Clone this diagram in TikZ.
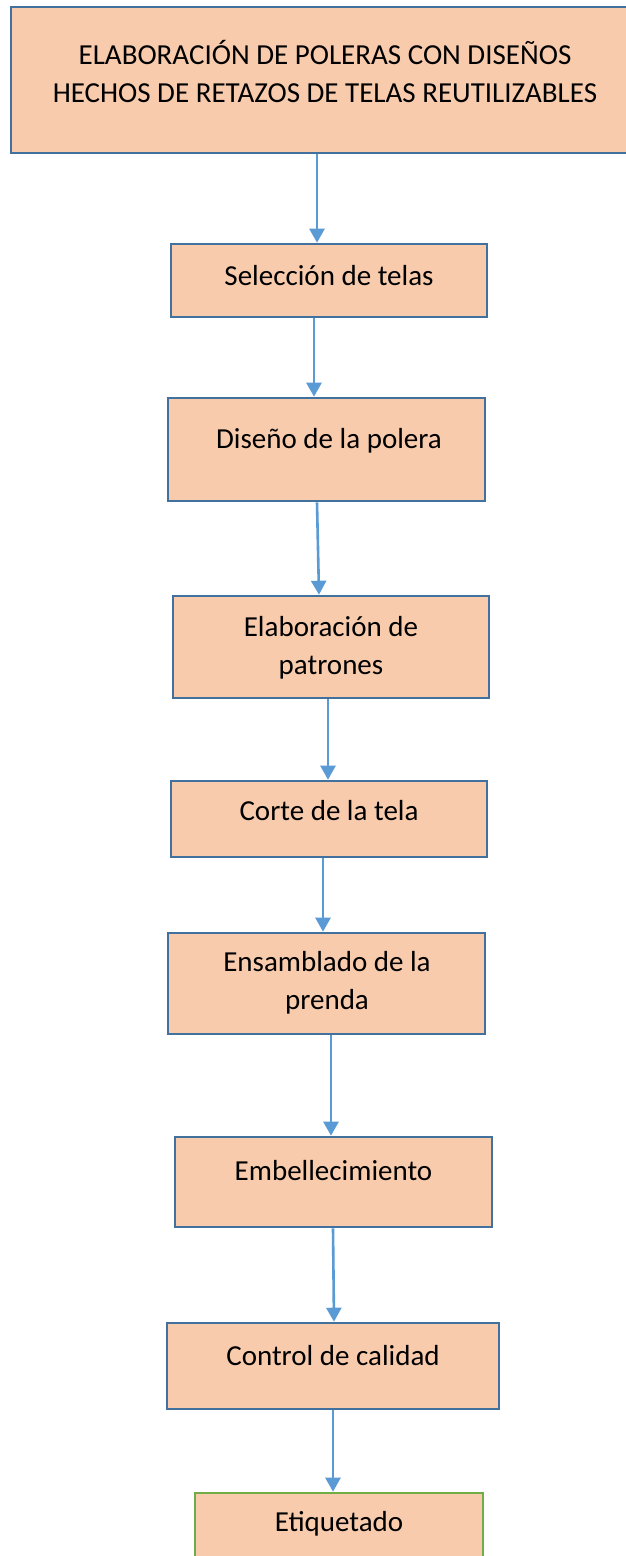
\documentclass[tikz,border=0pt]{standalone}
\usepackage{fontspec}
\setmainfont{Carlito}
\usetikzlibrary{arrows.meta}
\definecolor{boxfill}{HTML}{F8CBAD}
\definecolor{boxline}{HTML}{41719C}
\definecolor{arrline}{HTML}{5B9BD5}
\definecolor{greenline}{HTML}{70AD47}
\tikzset{
  stepbox/.style={draw=boxline, line width=2.6pt, fill=boxfill, rectangle, inner sep=0pt},
  greenbox/.style={stepbox, draw=greenline},
  lbl/.style={font=\fontsize{29}{38}\selectfont, align=center, inner sep=0pt, text=black},
  arr/.style={draw=arrline, line width=2.6pt, -{Triangle[width=15pt,length=14pt]}}
}
\begin{document}
\begin{tikzpicture}[x=1pt,y=-1pt]
\useasboundingbox (0,0) rectangle (626,1556);
\fill[white] (0,0) rectangle (626,1556);
\clip (0,0) rectangle (626,1556);
% boxes (centre, size)
\node[stepbox, minimum width=628pt, minimum height=146pt] (b0) at (325,80) {};
\node[stepbox, minimum width=316pt, minimum height=73pt] (b1) at (329,280.5) {};
\node[stepbox, minimum width=317pt, minimum height=103pt] (b2) at (326.5,449.5) {};
\node[stepbox, minimum width=316pt, minimum height=102pt] (b3) at (331,647) {};
\node[stepbox, minimum width=316pt, minimum height=76pt] (b4) at (329,819) {};
\node[stepbox, minimum width=317pt, minimum height=101pt] (b5) at (326.5,983.5) {};
\node[stepbox, minimum width=317pt, minimum height=90pt] (b6) at (333.5,1182) {};
\node[stepbox, minimum width=332pt, minimum height=86pt] (b7) at (333,1366) {};
\node[greenbox, minimum width=288pt, minimum height=110pt] (b8) at (339,1548) {};
% texts
\node[lbl] (t0) at (325,71) {ELABORACIÓN DE POLERAS CON DISEÑOS\\HECHOS DE RETAZOS DE TELAS REUTILIZABLES};
\node[lbl] (t1) at (329,276) {Selección de telas};
\node[lbl] (t2) at (329,441) {Diseño de la polera};
\node[lbl] (t3) at (331,648) {Elaboración de\\patrones};
\node[lbl] (t4) at (329,811) {Corte de la tela};
\node[lbl] (t5) at (327,983) {Ensamblado de la\\prenda};
\node[lbl] (t6) at (333.5,1171) {Embellecimiento};
\node[lbl] (t7) at (333,1356) {Control de calidad};
\node[lbl] (t8) at (339,1524) {Etiquetado};
% connectors
\draw[arr] ([xshift=-8pt]b0.south) -- ([xshift=-12pt]b1.north);
\draw[arr] ([xshift=-15pt]b1.south) -- ([xshift=-12.5pt]b2.north);
\draw[arr] ([xshift=-9.5pt]b2.south) -- ([xshift=-12pt]b3.north);
\draw[arr] ([xshift=-3pt]b3.south) -- ([xshift=-1pt]b4.north);
\draw[arr] ([xshift=-6pt]b4.south) -- ([xshift=-3.5pt]b5.north);
\draw[arr] ([xshift=4.5pt]b5.south) -- ([xshift=-2.5pt]b6.north);
\draw[arr] ([xshift=-0.5pt]b6.south) -- ([xshift=1pt]b7.north);
\draw[arr] (b7.south) -- ([xshift=-6pt]b8.north);
\end{tikzpicture}
\end{document}
